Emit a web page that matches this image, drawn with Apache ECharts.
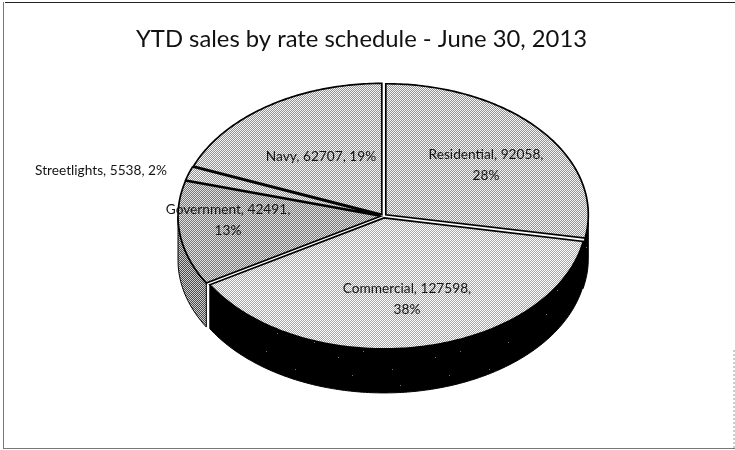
<!DOCTYPE html>
<html>
<head>
<meta charset="utf-8">
<script src="https://cdn.jsdelivr.net/npm/echarts@6/dist/echarts.min.js"></script>
<style>html,body{margin:0;padding:0;background:#fff}#c{width:735px;height:450px}</style>
</head>
<body>
<div id="c"></div>
<script>
const titleText = 'YTD sales by rate schedule - June 30, 2013';
const categories = ['Residential', 'Commercial', 'Government', 'Streetlights', 'Navy'];
const sales = [92058, 127598, 42491, 5538, 62707];
const percents = ['28%', '38%', '13%', '2%', '19%'];

// layout only
const PIE = { cx: 383.5, cy: 216, rx: 202.5, ry: 131, depth: 44, explode: 3 };
const labelSpots = [[486, 165], [407, 299], [228, 220], [101, 171], [321, 157]];
const labelWrap = [true, true, true, false, false];
const tileKinds = ['light', 'lighter', 'mid', 'light', 'light'];

function tile(kind) {
  const n = 8, c = document.createElement('canvas');
  c.width = c.height = n;
  const g = c.getContext('2d');
  const pal = {
    light:   ['#f6f6f6', '#929292'],
    lighter: ['#ffffff', '#a4a4a4'],
    mid:     ['#e2e2e2', '#787878'],
    wallMid: ['#cfcfcf', '#4a4a4a']
  }[kind];
  for (let y = 0; y < n; y++) for (let x = 0; x < n; x++) {
    g.fillStyle = pal[(x + y) % 2];
    g.fillRect(x, y, 1, 1);
  }
  return { image: c, repeat: 'repeat' };
}
function speckle() {
  const w = 97, h = 61, c = document.createElement('canvas');
  c.width = w; c.height = h;
  const g = c.getContext('2d');
  g.fillStyle = '#000';
  g.fillRect(0, 0, w, h);
  g.fillStyle = '#777';
  [[4, 3], [61, 9], [23, 37], [83, 28], [47, 52], [12, 19], [72, 46]].forEach(p => g.fillRect(p[0], p[1], 1, 1));
  return { image: c, repeat: 'repeat' };
}

const total = sales.reduce((a, b) => a + b, 0);
const edges = [0];
sales.forEach(v => edges.push(edges[edges.length - 1] + v / total * Math.PI * 2));

function pt(t, ox, oy, dz) {
  return [PIE.cx + ox + PIE.rx * Math.sin(t), PIE.cy + oy - PIE.ry * Math.cos(t) + (dz || 0)];
}
function offset(i) {
  const m = (edges[i] + edges[i + 1]) / 2;
  return [PIE.explode * Math.sin(m), PIE.explode * 0.65 * -Math.cos(m)];
}
function arc(t0, t1, ox, oy, dz) {
  const pts = [], steps = Math.max(2, Math.ceil((t1 - t0) / 0.015));
  for (let k = 0; k <= steps; k++) pts.push(pt(t0 + (t1 - t0) * k / steps, ox, oy, dz));
  return pts;
}
function wallItem(params) {
  const i = params.dataIndex;
  const a = Math.max(edges[i], Math.PI / 2);
  // the first wall runs on a little so that the dark side reads as one band
  const b = Math.min(edges[i + 1] + (i === 0 ? 0.05 : 0), Math.PI * 1.5);
  if (a >= b) return { type: 'group', children: [] };
  const [ox, oy] = offset(i);
  const points = arc(a, b, ox, oy, 0).concat(arc(a, b, ox, oy, PIE.depth).reverse());
  return {
    type: 'polygon', shape: { points },
    style: { fill: i === 2 ? tile('wallMid') : speckle(), stroke: '#000', lineWidth: 1 }
  };
}
function topItem(params) {
  const i = params.dataIndex;
  const [ox, oy] = offset(i);
  const points = [[PIE.cx + ox, PIE.cy + oy]].concat(arc(edges[i], edges[i + 1], ox, oy, 0));
  return {
    type: 'polygon', shape: { points },
    style: { fill: tile(tileKinds[i]), stroke: '#000', lineWidth: 1.7, lineJoin: 'miter' }
  };
}
function labelItem(params, api) {
  const i = params.dataIndex;
  const sep = labelWrap[i] ? ',\n' : ', ';
  return {
    type: 'text',
    style: {
      x: labelSpots[i][0], y: labelSpots[i][1],
      text: categories[i] + ', ' + api.value(0) + sep + percents[i],
      align: 'center', verticalAlign: 'middle',
      font: '13.7px Lato', lineHeight: 21, fill: '#151515'
    }
  };
}

const chart = echarts.init(document.getElementById('c'), null, { renderer: 'canvas' });
const data = sales.map(v => [v]);
const base = { type: 'custom', coordinateSystem: 'none', data, silent: true, animation: false, clip: false };
chart.setOption({
  animation: false,
  backgroundColor: '#fff',
  title: {
    text: titleText, left: 131, top: 22,
    textStyle: { fontFamily: 'Lato', fontWeight: 'normal', fontSize: 23.8, color: '#111' }
  },
  graphic: [
    { type: 'line', shape: { x1: 5, y1: 2.5, x2: 735, y2: 2.5 }, style: { stroke: '#222', lineWidth: 1 } },
    { type: 'line', shape: { x1: 3.5, y1: 2, x2: 3.5, y2: 449 }, style: { stroke: '#777', lineWidth: 1 } },
    { type: 'line', shape: { x1: 3, y1: 448.5, x2: 735, y2: 448.5 }, style: { stroke: '#777', lineWidth: 1 } },
    { type: 'line', shape: { x1: 734, y1: 350, x2: 734, y2: 449 }, style: { stroke: '#999', lineWidth: 1, lineDash: [2, 2] } }
  ],
  series: [
    Object.assign({}, base, { name: 'wall', z: 2, renderItem: wallItem }),
    Object.assign({}, base, { name: 'top', z: 3, renderItem: topItem }),
    Object.assign({}, base, { name: 'labels', z: 4, renderItem: labelItem })
  ]
});
</script>
</body>
</html>
